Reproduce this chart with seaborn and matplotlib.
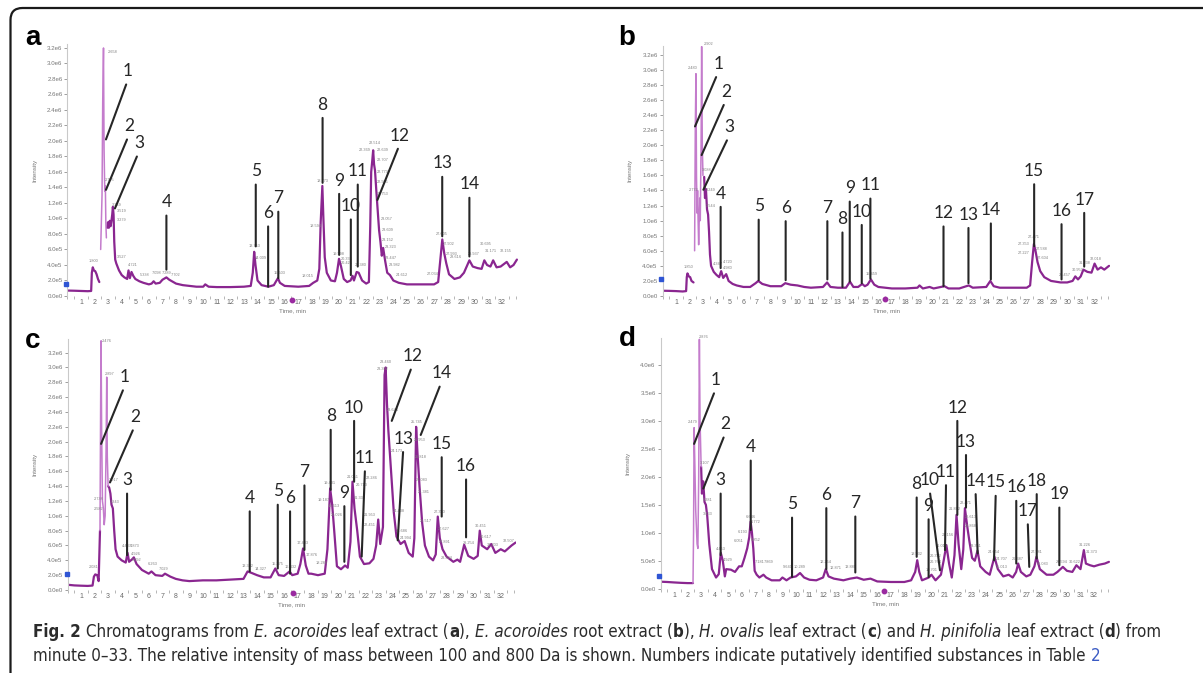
import matplotlib
matplotlib.use("Agg")
import matplotlib.pyplot as plt
from matplotlib import font_manager
from matplotlib.font_manager import FontProperties
from matplotlib.patches import FancyBboxPatch
from matplotlib.transforms import IdentityTransform
from matplotlib.ticker import MultipleLocator
import pandas as pd
import seaborn as sns

sns.set_style("white")
plt.rcParams["font.family"] = ["Liberation Sans", "DejaVu Sans"]

W, H = 1203, 673

# ---------------------------------------------------------------- traces (intensity in 1e6 counts)
a_time = [0.05, 0.5, 1.0, 1.5, 1.75, 1.80, 1.87, 1.95, 2.05, 2.15, 2.25, 2.35, 2.45, 2.55, 2.60, 2.658,
          2.70, 2.75, 2.795, 2.83, 2.87, 2.92, 2.98, 3.05, 3.12, 3.18, 3.25, 3.30, 3.349, 3.40, 3.45,
          3.52, 3.6, 3.8, 4.0, 4.2, 4.4, 4.5, 4.6, 4.72, 4.85, 5.0, 5.3, 5.6, 6.0, 6.2, 6.35, 6.5, 6.8,
          7.0, 7.29, 7.5, 7.7, 8.0, 8.5, 9.0, 9.5, 10.0, 10.15, 10.4, 11.0, 12.0, 13.0, 13.5, 13.65,
          13.753, 13.85, 14.0, 14.3, 14.8, 15.2, 15.4, 15.503, 15.65, 16.0, 17.0, 17.8, 18.1, 18.4,
          18.55, 18.65, 18.773, 18.85, 18.95, 19.1, 19.4, 19.7, 19.85, 20.0, 20.15, 20.35, 20.6, 20.85,
          21.0, 21.1, 21.3, 21.45, 21.7, 22.0, 22.2, 22.3, 22.369, 22.45, 22.514, 22.58, 22.65, 22.75,
          22.85, 22.95, 23.05, 23.15, 23.25, 23.4, 23.55, 23.75, 24.0, 24.4, 25.0, 26.0, 27.0, 27.3,
          27.45, 27.605, 27.75, 27.9, 28.1, 28.5, 28.9, 29.2, 29.45, 29.6, 29.85, 30.2, 30.5, 30.7,
          30.9, 31.15, 31.35, 31.6, 31.9, 32.2, 32.35, 32.6, 32.85, 33.1]
a_int = [0.07, 0.068, 0.065, 0.062, 0.065, 0.30, 0.37, 0.33, 0.32, 0.28, 0.22, 0.18, 0.6, 1.3, 2.5, 3.2,
         1.9, 1.35, 1.42, 0.95, 0.75, 0.88, 0.95, 0.88, 0.97, 0.9, 0.98, 1.05, 1.15, 1.05, 0.7,
         0.47, 0.42, 0.33, 0.27, 0.24, 0.22, 0.33, 0.23, 0.31, 0.26, 0.22, 0.19, 0.17, 0.15, 0.16, 0.19,
         0.16, 0.17, 0.21, 0.24, 0.21, 0.19, 0.16, 0.14, 0.13, 0.12, 0.12, 0.15, 0.12, 0.115, 0.115, 0.12,
         0.13, 0.3, 0.57, 0.4, 0.2, 0.14, 0.12, 0.14, 0.2, 0.23, 0.17, 0.13, 0.12, 0.13, 0.17, 0.2,
         0.35, 0.95, 1.42, 1.0, 0.5, 0.3, 0.2, 0.19, 0.3, 0.48, 0.38, 0.22, 0.18, 0.2, 0.26, 0.2, 0.31,
         0.3, 0.2, 0.16, 0.18, 0.9, 1.6, 1.75, 1.88, 1.7, 1.62, 1.35, 1.1, 0.85, 0.7, 0.52, 0.62, 0.45,
         0.3, 0.27, 0.2, 0.17, 0.15, 0.15, 0.15, 0.18, 0.45, 0.73, 0.55, 0.42, 0.28, 0.22, 0.24, 0.3,
         0.4, 0.46, 0.38, 0.36, 0.35, 0.46, 0.4, 0.38, 0.46, 0.37, 0.38, 0.42, 0.44, 0.37, 0.4, 0.47]

b_time = [0.0, 0.5, 1.0, 1.5, 1.75, 1.80, 1.85, 1.95, 2.05, 2.15, 2.3, 2.38, 2.43, 2.48, 2.52, 2.56,
          2.60, 2.64, 2.68, 2.72, 2.76, 2.80, 2.86, 2.902, 2.95, 3.0, 3.088, 3.15, 3.22, 3.3, 3.38,
          3.45, 3.52, 3.6, 3.8, 4.0, 4.2, 4.35, 4.5, 4.72, 4.9, 5.2, 5.5, 6.0, 6.5, 6.9, 7.1, 7.4, 8.0,
          8.8, 9.1, 9.5, 10.0, 10.5, 11.0, 11.9, 12.2, 12.45, 13.0, 13.6, 13.9, 14.15, 14.5, 14.8, 15.0,
          15.2, 15.45, 15.7, 16.0, 17.0, 18.0, 18.9, 19.05, 19.3, 19.8, 20.1, 20.9, 21.2, 22.0, 22.7,
          23.0, 24.0, 24.3, 24.55, 25.0, 26.0, 27.0, 27.25, 27.4, 27.53, 27.65, 27.8, 28.0, 28.3, 28.8,
          29.5, 30.0, 30.4, 30.6, 30.8, 31.0, 31.2, 31.5, 31.8, 32.03, 32.25, 32.5, 32.75, 33.1]
b_int = [0.07, 0.068, 0.065, 0.06, 0.065, 0.25, 0.30, 0.26, 0.25, 0.2, 0.18, 0.6, 2.2, 2.95, 1.6, 1.1,
         1.4, 1.0, 0.68, 1.0, 1.3, 1.0, 2.0, 3.31, 2.0, 1.6, 1.58, 1.3, 1.42, 1.15, 1.08,
         0.85, 0.55, 0.4, 0.32, 0.28, 0.25, 0.33, 0.24, 0.29, 0.2, 0.16, 0.14, 0.12, 0.12, 0.17, 0.2, 0.16,
         0.13, 0.13, 0.17, 0.15, 0.14, 0.12, 0.11, 0.12, 0.18, 0.12, 0.11, 0.11, 0.19, 0.12, 0.12, 0.16,
         0.13, 0.15, 0.22, 0.15, 0.12, 0.1, 0.1, 0.11, 0.14, 0.1, 0.12, 0.1, 0.13, 0.1, 0.1, 0.14,
         0.11, 0.12, 0.2, 0.13, 0.11, 0.11, 0.11, 0.14, 0.45, 0.69, 0.6, 0.45, 0.33, 0.25, 0.2,
         0.18, 0.18, 0.2, 0.26, 0.22, 0.26, 0.35, 0.32, 0.31, 0.43, 0.35, 0.38, 0.35, 0.4]

c_time = [0.05, 0.5, 1.0, 1.5, 1.85, 1.95, 2.05, 2.2, 2.3, 2.4, 2.45, 2.48, 2.52, 2.58, 2.65, 2.71,
          2.78, 2.85, 2.897, 2.94, 3.0, 3.08, 3.17, 3.25, 3.35, 3.45, 3.55, 3.7, 4.0, 4.3, 4.437, 4.55,
          4.75, 4.9, 5.1, 5.5, 6.0, 6.2, 6.5, 7.0, 7.2, 7.6, 8.0, 8.5, 9.0, 10.0, 11.0, 12.0, 13.0, 13.3,
          13.6, 14.0, 14.5, 15.0, 15.35, 15.6, 16.0, 16.4, 16.6, 17.0, 17.2, 17.4, 17.6, 17.8, 18.0,
          18.5, 19.0, 19.2, 19.4, 19.55, 19.7, 19.9, 20.2, 20.5, 20.7, 20.9, 21.05, 21.2, 21.4, 21.6,
          21.9, 22.3, 22.6, 22.8, 22.95, 23.1, 23.3, 23.42, 23.5, 23.6, 23.7, 23.9, 24.1, 24.3, 24.6,
          24.9, 25.2, 25.5, 25.62, 25.75, 25.85, 26.0, 26.2, 26.4, 26.7, 27.0, 27.2, 27.35, 27.5, 27.7,
          28.0, 28.5, 28.8, 29.0, 29.3, 29.6, 30.0, 30.3, 30.45, 30.6, 31.0, 31.3, 31.6, 32.0, 32.3,
          32.8, 33.1]
c_int = [0.07, 0.062, 0.058, 0.055, 0.06, 0.18, 0.21, 0.2, 0.12, 0.8, 2.6, 3.36, 2.2, 1.2, 1.1, 0.88,
         1.0, 1.9, 2.87, 1.8, 1.4, 1.38, 1.3, 1.15, 1.1, 0.8, 0.55, 0.45, 0.4, 0.37, 0.5, 0.38,
         0.41, 0.44, 0.35, 0.27, 0.22, 0.25, 0.2, 0.19, 0.22, 0.18, 0.15, 0.13, 0.12, 0.13, 0.13, 0.14,
         0.15, 0.25, 0.23, 0.2, 0.17, 0.17, 0.29, 0.2, 0.19, 0.25, 0.2, 0.22, 0.35, 0.56, 0.33, 0.22,
         0.22, 0.2, 0.22, 0.55, 1.37, 1.15, 0.8, 0.32, 0.28, 0.33, 0.3, 0.65, 1.46, 1.1, 0.8, 0.45,
         0.35, 0.36, 0.42, 0.6, 0.95, 0.62, 0.85, 2.9, 3.0, 2.5, 2.15, 1.6, 1.05, 0.72, 0.62,
         0.66, 0.5, 0.45, 0.7, 2.2, 1.85, 1.4, 0.9, 0.6, 0.45, 0.4, 0.48, 0.99, 0.7, 0.55,
         0.45, 0.38, 0.41, 0.38, 0.61, 0.46, 0.42, 0.46, 0.8, 0.6, 0.55, 0.62, 0.5, 0.55, 0.52,
         0.6, 0.64]

d_time = [0.02, 0.5, 1.0, 1.5, 2.0, 2.4, 2.44, 2.48, 2.53, 2.6, 2.7, 2.76, 2.82, 2.87, 2.92, 3.0,
          3.06, 3.15, 3.25, 3.35, 3.45, 3.6, 3.8, 4.1, 4.3, 4.45, 4.6, 4.75, 4.85, 5.2, 5.5, 5.8, 6.0,
          6.2, 6.4, 6.55, 6.65, 6.75, 6.85, 6.95, 7.1, 7.3, 7.6, 7.8, 8.2, 8.8, 9.0, 9.3, 9.6, 10.0,
          10.3, 10.6, 11.0, 11.5, 12.0, 12.2, 12.4, 12.8, 13.5, 14.0, 14.5, 15.0, 15.5, 16.0, 17.0,
          18.0, 18.5, 18.8, 18.95, 19.1, 19.3, 19.8, 20.0, 20.3, 20.7, 20.9, 21.1, 21.3, 21.5, 21.7,
          21.85, 22.0, 22.2, 22.35, 22.47, 22.65, 22.8, 23.0, 23.2, 23.4, 23.6, 24.0, 24.3, 24.65,
          24.9, 25.3, 25.7, 26.0, 26.25, 26.4, 26.6, 27.0, 27.3, 27.6, 27.75, 28.0, 28.5, 29.0, 29.3,
          29.7, 30.0, 30.4, 30.7, 31.0, 31.25, 31.4, 31.7, 32.0, 32.4, 32.8, 33.1]
d_int = [0.125, 0.12, 0.112, 0.105, 0.1, 0.1, 1.0, 2.88, 2.3, 1.4, 0.8, 0.72, 2.0, 4.46, 3.0, 2.18,
         1.7, 1.92, 1.55, 1.5, 1.3, 0.8, 0.35, 0.2, 0.26, 0.64, 0.5, 0.22, 0.35, 0.34, 0.3, 0.4, 0.4,
         0.55, 0.72, 0.92, 1.2, 1.0, 0.72, 0.32, 0.25, 0.2, 0.25, 0.2, 0.15, 0.15, 0.2, 0.15, 0.2, 0.22,
         0.28, 0.2, 0.16, 0.15, 0.2, 0.35, 0.22, 0.18, 0.15, 0.18, 0.2, 0.16, 0.18, 0.13, 0.12,
         0.12, 0.15, 0.3, 0.51, 0.3, 0.15, 0.2, 0.25, 0.15, 0.25, 0.5, 0.78, 0.45, 0.2, 0.6,
         1.32, 0.8, 0.35, 0.7, 1.44, 1.1, 0.85, 0.55, 0.5, 0.68, 0.4, 0.3, 0.25, 0.57,
         0.35, 0.22, 0.25, 0.2, 0.3, 0.45, 0.3, 0.22, 0.25, 0.4, 0.57, 0.35, 0.25, 0.25, 0.3,
         0.39, 0.32, 0.3, 0.42, 0.35, 0.69, 0.45, 0.42, 0.4, 0.43, 0.45, 0.48]

# ---------------------------------------------------------------- numbered substances
a_num = list(range(1, 15))
a_num_tx = [4.47, 4.55, 5.28, 7.29, 13.87, 14.78, 15.53, 18.79, 20.01, 20.87, 21.38, 24.49, 27.60, 29.60]
a_num_ty = [2.90, 2.19, 1.97, 1.21, 1.61, 1.07, 1.26, 2.47, 1.49, 1.16, 1.61, 2.07, 1.71, 1.44]
a_num_px = [2.84, 2.84, 3.50, 7.29, 13.87, 14.78, 15.53, 18.79, 20.01, 20.87, 21.38, 22.83, 27.60, 29.60]
a_num_py = [2.02, 1.37, 1.13, 0.34, 0.64, 0.12, 0.23, 1.46, 0.53, 0.27, 0.38, 1.24, 0.77, 0.51]

b_num = list(range(1, 18))
b_num_tx = [4.14, 4.71, 4.96, 4.31, 7.13, 9.13, 12.22, 13.34, 13.88, 14.77, 15.41, 20.83, 22.68, 24.34,
            27.55, 29.58, 31.26]
b_num_ty = [3.08, 2.71, 2.24, 1.36, 1.19, 1.17, 1.17, 1.02, 1.43, 1.12, 1.47, 1.10, 1.08, 1.14, 1.66,
            1.13, 1.28]
b_num_px = [2.41, 2.90, 3.03, 4.31, 7.13, 9.13, 12.22, 13.34, 13.88, 14.77, 15.41, 20.83, 22.68, 24.34,
            27.55, 29.58, 31.26]
b_num_py = [2.25, 1.87, 1.41, 0.37, 0.21, 0.21, 0.22, 0.12, 0.19, 0.17, 0.23, 0.13, 0.17, 0.22, 0.66,
            0.22, 0.39]

c_num = list(range(1, 17))
c_num_tx = [4.25, 4.99, 4.40, 13.46, 15.53, 16.44, 17.50, 19.44, 20.45, 21.17, 21.98, 25.50, 24.81,
            27.64, 27.64, 29.44]
c_num_ty = [2.87, 2.33, 1.48, 1.24, 1.33, 1.24, 1.59, 2.34, 1.31, 2.46, 1.78, 3.15, 2.04, 2.92, 1.97, 1.67]
c_num_px = [2.48, 3.14, 4.40, 13.46, 15.53, 16.44, 17.50, 19.44, 20.45, 21.17, 21.73, 23.95, 24.39,
            26.09, 27.64, 29.44]
c_num_py = [1.97, 1.45, 0.47, 0.25, 0.29, 0.22, 0.54, 1.35, 0.38, 1.46, 0.45, 2.28, 0.67, 2.09, 0.99, 0.71]

d_num = list(range(1, 20))
d_num_tx = [4.10, 4.81, 4.44, 6.66, 9.71, 12.24, 14.38, 18.91, 19.79, 19.85, 21.08, 21.91, 22.55, 23.25,
            24.75, 26.26, 27.10, 27.77, 29.44]
d_num_ty = [3.73, 2.94, 1.94, 2.53, 1.51, 1.68, 1.53, 1.87, 1.48, 1.94, 2.09, 3.24, 2.63, 1.93, 1.90,
            1.81, 1.39, 1.93, 1.69]
d_num_px = [2.48, 3.16, 4.44, 6.66, 9.71, 12.24, 14.38, 18.91, 19.79, 20.63, 21.00, 21.91, 22.55, 23.41,
            24.62, 26.26, 27.22, 27.77, 29.44]
d_num_py = [2.59, 1.79, 0.60, 1.05, 0.21, 0.35, 0.29, 0.57, 0.21, 0.33, 0.69, 1.32, 1.45, 0.63, 0.51,
            0.45, 0.39, 0.54, 0.42]

# ---------------------------------------------------------------- retention-time labels (value, x, y)
a_rt = [1.800, 2.658, 2.795, 3.349, 3.519, 3.279, 3.527, 4.721, 5.338, 7.098, 7.289, 7.702, 13.753,
        14.009, 15.503, 18.015, 18.594, 18.773, 19.998, 20.336, 20.421, 21.380, 22.369, 22.514, 22.639,
        22.707, 22.773, 22.905, 22.753, 23.057, 23.609, 23.152, 23.323, 23.447, 23.982, 24.612, 27.034,
        27.605, 27.902, 27.993, 28.616, 29.937, 30.695, 31.171, 32.155]
a_rt_x = [1.9, 3.3, 3.1, 3.6, 4.0, 4.0, 4.0, 4.85, 5.7, 6.6, 7.3, 8.0, 13.8, 14.2, 15.6, 17.7, 18.3, 18.8,
          20.0, 20.6, 20.6, 21.6, 21.9, 22.6, 23.2, 23.2, 23.2, 23.2, 23.2, 23.5, 23.6, 23.6, 23.8, 23.8,
          24.1, 24.6, 26.9, 27.6, 28.1, 28.3, 28.6, 29.9, 30.8, 31.2, 32.3]
a_rt_y = [0.43, 3.12, 1.47, 1.15, 1.07, 0.96, 0.48, 0.37, 0.24, 0.27, 0.27, 0.25, 0.62, 0.47, 0.27, 0.23,
          0.88, 1.46, 0.52, 0.45, 0.40, 0.38, 1.86, 1.95, 1.86, 1.73, 1.57, 1.45, 1.29, 0.97, 0.83, 0.70,
          0.61, 0.47, 0.37, 0.25, 0.26, 0.78, 0.64, 0.52, 0.48, 0.51, 0.65, 0.55, 0.55]

b_rt = [1.850, 2.480, 2.902, 3.088, 2.772, 3.249, 3.544, 4.347, 4.720, 4.980, 15.459, 27.471, 27.353,
        27.227, 27.588, 27.604, 29.457, 30.953, 31.238, 32.018]
b_rt_x = [1.9, 2.2, 3.4, 3.3, 2.3, 3.6, 3.6, 4.1, 4.8, 4.8, 15.5, 27.5, 26.8, 26.8, 28.1, 28.2, 29.8,
          30.8, 31.3, 32.1]
b_rt_y = [0.36, 3.0, 3.32, 1.64, 1.38, 1.38, 1.17, 0.40, 0.42, 0.35, 0.27, 0.76, 0.66, 0.55, 0.60, 0.48,
          0.25, 0.32, 0.41, 0.47]

c_rt = [2.081, 2.476, 2.897, 2.738, 2.582, 3.017, 3.343, 4.437, 4.873, 4.926, 5.092, 6.263, 7.029,
        13.302, 14.327, 15.375, 16.432, 17.403, 17.876, 18.286, 19.401, 19.187, 19.613, 20.026, 21.051,
        20.713, 21.332, 22.286, 21.953, 22.451, 23.460, 23.392, 23.646, 24.173, 24.438, 24.686, 24.994,
        25.745, 25.953, 25.818, 26.083, 26.381, 26.517, 27.350, 27.627, 27.891, 28.324, 29.254, 30.451,
        30.617, 31.203, 32.507]
c_rt_x = [1.9, 2.9, 3.1, 2.3, 2.3, 3.4, 3.5, 4.4, 5.0, 5.05, 5.1, 6.3, 7.1, 13.3, 14.3, 15.5, 16.5,
          17.4, 18.0, 18.8, 19.4, 18.9, 19.7, 19.9, 21.1, 21.7, 21.6, 22.5, 22.3, 22.3, 23.5, 23.3, 24.0,
          24.3, 24.5, 24.7, 25.0, 25.8, 26.0, 26.1, 26.2, 26.3, 26.5, 27.5, 27.8, 27.9, 28.0, 29.6, 30.5,
          30.9, 31.4, 32.6]
c_rt_y = [0.28, 3.33, 2.89, 1.20, 1.07, 1.45, 1.16, 0.56, 0.56, 0.46, 0.38, 0.33, 0.25, 0.30, 0.25,
          0.33, 0.28, 0.60, 0.45, 0.34, 1.41, 1.19, 1.10, 0.98, 1.49, 1.39, 1.22, 1.48, 0.98, 0.85, 3.05,
          2.95, 2.40, 1.85, 1.04, 0.77, 0.68, 2.24, 1.99, 1.76, 1.45, 1.30, 0.90, 1.02, 0.79, 0.62, 0.40,
          0.60, 0.84, 0.69, 0.58, 0.63]

d_rt = [2.479, 2.876, 3.107, 3.281, 3.433, 4.453, 4.929, 6.051, 6.193, 6.646, 6.772, 6.852, 7.181, 7.869,
        9.640, 10.289, 12.254, 12.871, 13.889, 18.932, 19.701, 20.352, 20.764, 21.013, 21.156, 21.862,
        22.471, 22.613, 22.868, 23.351, 24.654, 24.707, 25.013, 26.387, 27.781, 28.083, 29.594, 30.622,
        31.226, 31.373]
d_rt_x = [2.4, 3.2, 3.3, 3.5, 3.5, 4.45, 5.0, 5.8, 6.1, 6.7, 7.0, 7.0, 7.3, 8.0, 9.4, 10.3, 12.2, 12.9,
          14.0, 18.9, 20.0, 20.3, 20.3, 20.8, 21.2, 21.7, 22.5, 22.9, 22.9, 23.3, 24.6, 25.2, 25.2, 26.4,
          27.8, 28.2, 29.6, 30.6, 31.3, 31.8]
d_rt_y = [2.95, 4.47, 2.22, 1.55, 1.30, 0.68, 0.48, 0.82, 0.98, 1.25, 1.15, 0.84, 0.45, 0.45, 0.35, 0.35,
          0.45, 0.33, 0.35, 0.58, 0.30, 0.55, 0.45, 0.72, 0.93, 1.39, 1.50, 1.25, 1.08, 0.73, 0.62, 0.50,
          0.35, 0.50, 0.62, 0.40, 0.45, 0.45, 0.75, 0.62]

# ---------------------------------------------------------------- axis ticks
x_ticks = list(range(1, 33))
y_ticks_32 = [0.0, 0.2, 0.4, 0.6, 0.8, 1.0, 1.2, 1.4, 1.6, 1.8, 2.0, 2.2, 2.4, 2.6, 2.8, 3.0, 3.2]
y_labels_32 = ["0.0e0", "2.0e5", "4.0e5", "6.0e5", "8.0e5", "1.0e6", "1.2e6", "1.4e6", "1.6e6",
               "1.8e6", "2.0e6", "2.2e6", "2.4e6", "2.6e6", "2.8e6", "3.0e6", "3.2e6"]
y_ticks_40 = [0.0, 0.5, 1.0, 1.5, 2.0, 2.5, 3.0, 3.5, 4.0]
y_labels_40 = ["0.0e0", "5.0e5", "1.0e6", "1.5e6", "2.0e6", "2.5e6", "3.0e6", "3.5e6", "4.0e6"]

TRACE = "#8a2690"
TRACE_LIGHT = "#c47ccc"
INK = "#262626"


def has_font(name):
    try:
        font_manager.findfont(FontProperties(family=name), fallback_to_default=False)
        return True
    except Exception:
        return False


NUM_FONT = "Lato" if has_font("Lato") else "DejaVu Sans"


def condensed_files():
    """Find a narrow sans family and return its regular / bold / italic files."""
    found = {}
    for pref in ("LiberationSansNarrow", "DejaVuSansCondensed", "OpenSans_Condensed",
                 "OpenSansCondensed", "Condensed", "Narrow"):
        group = [f for f in font_manager.fontManager.ttflist
                 if pref.lower() in f.fname.replace("-", "").replace(" ", "").lower()]
        if not group:
            continue
        for f in group:
            wt = 700 if (isinstance(f.weight, int) and f.weight >= 600) or f.weight == "bold" else 400
            key = ("bold" if wt >= 600 else "normal", "italic" if f.style in ("italic", "oblique") else "normal")
            found.setdefault(key, f.fname)
        if ("normal", "normal") in found:
            return found
        found = {}
    return found


COND = condensed_files()


def cap_props(weight, style, size):
    path = COND.get((weight, style)) or COND.get(("normal", style)) or COND.get((weight, "normal")) \
        or COND.get(("normal", "normal"))
    if path:
        fp = FontProperties(fname=path, size=size)
        if (weight, style) not in COND:
            fp.set_weight(weight)
            fp.set_style(style)
        return fp
    return FontProperties(family="Liberation Sans", weight=weight, style=style, size=size)


fig = plt.figure(figsize=(W / 100, H / 100), dpi=100)
fig.patch.set_facecolor("white")


def px_rect(left, right, top, bottom):
    return [left / W, 1 - bottom / H, (right - left) / W, (bottom - top) / H]


def draw_panel(rect, ylim, time, inten, spike, yt, yl, num, tx, ty, px, py, rt, rtx, rty,
               letter, letter_xy, blue_xy, dot_xy):
    ax = fig.add_axes(rect)
    df = pd.DataFrame({"Time, min": time, "Intensity": inten})
    lo, hi = spike
    body_a = df[df["Time, min"] <= lo]
    body_b = df[df["Time, min"] >= hi]
    peak = df[(df["Time, min"] >= lo) & (df["Time, min"] <= hi)]
    for part in (body_a, body_b):
        sns.lineplot(data=part, x="Time, min", y="Intensity", ax=ax, color=TRACE, lw=1.6,
                     estimator=None, sort=False)
    sns.lineplot(data=peak, x="Time, min", y="Intensity", ax=ax, color=TRACE_LIGHT, lw=1.1,
                 estimator=None, sort=False)

    ax.set_xlim(0, 33.15)
    ax.set_ylim(*ylim)
    ax.set_xticks(x_ticks)
    ax.set_xticklabels([str(v) for v in x_ticks])
    ax.xaxis.set_minor_locator(MultipleLocator(0.5))
    ax.set_yticks(yt)
    ax.set_yticklabels(yl)
    for s in ("top", "right", "bottom"):
        ax.spines[s].set_visible(False)
    ax.spines["left"].set_color("#c9c9c9")
    ax.spines["left"].set_linewidth(0.8)
    ax.tick_params(axis="y", labelsize=4.4, colors="#777777", length=2, width=0.5, pad=1.5,
                   left=True)
    ax.tick_params(axis="x", which="major", labelsize=5, colors="#6a6a6a", length=0, pad=2.5,
                   bottom=True)
    ax.tick_params(axis="x", which="minor", length=1.8, width=0.5, colors="#9a9a9a", bottom=True)
    ax.set_xlabel("Time, min", fontsize=4.5, color="#777777", labelpad=1.5)
    ax.set_ylabel("Intensity", fontsize=4.5, color="#777777", labelpad=7)
    ax.grid(False)

    # instrument markers on the axes
    ax.plot([blue_xy[0]], [blue_xy[1]], marker="s", ms=2.2, color="#2f55d4", clip_on=False, zorder=5)
    ax.plot([dot_xy[0]], [dot_xy[1]], marker="o", ms=3.2, color="#9a2aa0", clip_on=False, zorder=5)

    # retention-time labels
    for v, x, y in zip(rt, rtx, rty):
        ax.text(x, y, f"{v:.3f}", fontsize=2.8, color="#808080", ha="center", va="bottom")

    # numbered substances with leader lines
    for n, x0, y0, x1, y1 in zip(num, tx, ty, px, py):
        ax.annotate(str(n), xy=(x1, y1), xytext=(x0, y0), ha="center", va="center",
                    fontsize=12.5, family=NUM_FONT, color=INK, annotation_clip=False,
                    arrowprops=dict(arrowstyle="-", color=INK, lw=1.5, shrinkA=1.5, shrinkB=0,
                                    relpos=(0.5, 0.0)))

    fig.text(letter_xy[0] / W, 1 - letter_xy[1] / H, letter, fontsize=20, fontweight="bold",
             family="Liberation Sans", ha="center", va="center", color="black")
    return ax


draw_panel(px_rect(67.4, 517.6, 44.1, 296.0), (0, 3.25), a_time, a_int, (2.4, 2.9),
           y_ticks_32, y_labels_32, a_num, a_num_tx, a_num_ty, a_num_px, a_num_py,
           a_rt, a_rt_x, a_rt_y, "a", (33, 38), (-0.1, 0.16), (16.54, -0.05))
draw_panel(px_rect(662.5, 1109.7, 45.8, 296.0), (0, 3.32), b_time, b_int, (2.35, 3.05),
           y_ticks_32, y_labels_32, b_num, b_num_tx, b_num_ty, b_num_px, b_num_py,
           b_rt, b_rt_x, b_rt_y, "b", (627, 38), (-0.14, 0.23), (16.5, -0.04))
draw_panel(px_rect(67.5, 516.3, 339.3, 590.0), (0, 3.38), c_time, c_int, (2.4, 3.0),
           y_ticks_32, y_labels_32, c_num, c_num_tx, c_num_ty, c_num_px, c_num_py,
           c_rt, c_rt_x, c_rt_y, "c", (33, 341), (-0.06, 0.22), (16.64, -0.04))
draw_panel(px_rect(660.5, 1109.6, 338.2, 588.7), (0, 4.48), d_time, d_int, (2.4, 3.0),
           y_ticks_40, y_labels_40, d_num, d_num_tx, d_num_ty, d_num_px, d_num_py,
           d_rt, d_rt_x, d_rt_y, "d", (627, 339), (-0.08, 0.23), (16.47, -0.05))

# outer frame with a rounded top-left corner
frame = FancyBboxPatch((10.5, -40), 1230, 673 - 8 + 40, boxstyle="round,pad=0,rounding_size=12",
                       transform=IdentityTransform(), facecolor="none", edgecolor="#1a1a1a",
                       lw=1.6, clip_on=False)
fig.add_artist(frame)

# ---------------------------------------------------------------- caption
CAP_COLOR = "#2b2b2b"
LINK_COLOR = "#3b5bc4"
line1 = [("Fig. 2", "bold", "normal", CAP_COLOR), (" Chromatograms from ", "normal", "normal", CAP_COLOR),
         ("E. acoroides", "normal", "italic", CAP_COLOR), (" leaf extract (", "normal", "normal", CAP_COLOR),
         ("a", "bold", "normal", CAP_COLOR), ("), ", "normal", "normal", CAP_COLOR),
         ("E. acoroides", "normal", "italic", CAP_COLOR), (" root extract (", "normal", "normal", CAP_COLOR),
         ("b", "bold", "normal", CAP_COLOR), ("), ", "normal", "normal", CAP_COLOR),
         ("H. ovalis", "normal", "italic", CAP_COLOR), (" leaf extract (", "normal", "normal", CAP_COLOR),
         ("c", "bold", "normal", CAP_COLOR), (") and ", "normal", "normal", CAP_COLOR),
         ("H. pinifolia", "normal", "italic", CAP_COLOR), (" leaf extract (", "normal", "normal", CAP_COLOR),
         ("d", "bold", "normal", CAP_COLOR), (") from", "normal", "normal", CAP_COLOR)]
line2 = [("minute 0\u201333. The relative intensity of mass between 100 and 800 Da is shown. "
          "Numbers indicate putatively identified substances in Table ", "normal", "normal", CAP_COLOR),
         ("2", "normal", "normal", LINK_COLOR)]

renderer = fig.canvas.get_renderer()


def piece_width(s, size, weight, style):
    fp = cap_props(weight, style, size)
    t1 = fig.text(0, 0, "." + s + ".", fontproperties=fp)
    t2 = fig.text(0, 0, "..", fontproperties=fp)
    w = t1.get_window_extent(renderer).width - t2.get_window_extent(renderer).width
    t1.remove()
    t2.remove()
    return w


def line_width(pieces, size):
    return sum(piece_width(s, size, wt, st) for s, wt, st, _ in pieces)


cap_size = 10 * 1127 / line_width(line1, 10)


def put_line(pieces, x0, y_base, size):
    x = x0
    for s, wt, st, col in pieces:
        fig.text(x / W, 1 - y_base / H, s, fontproperties=cap_props(wt, st, size), color=col,
                 ha="left", va="baseline")
        x += piece_width(s, size, wt, st)


put_line(line1, 33, 637, cap_size)
put_line(line2, 33, 661, cap_size)

fig.savefig("out.png", dpi=100, facecolor="white")
